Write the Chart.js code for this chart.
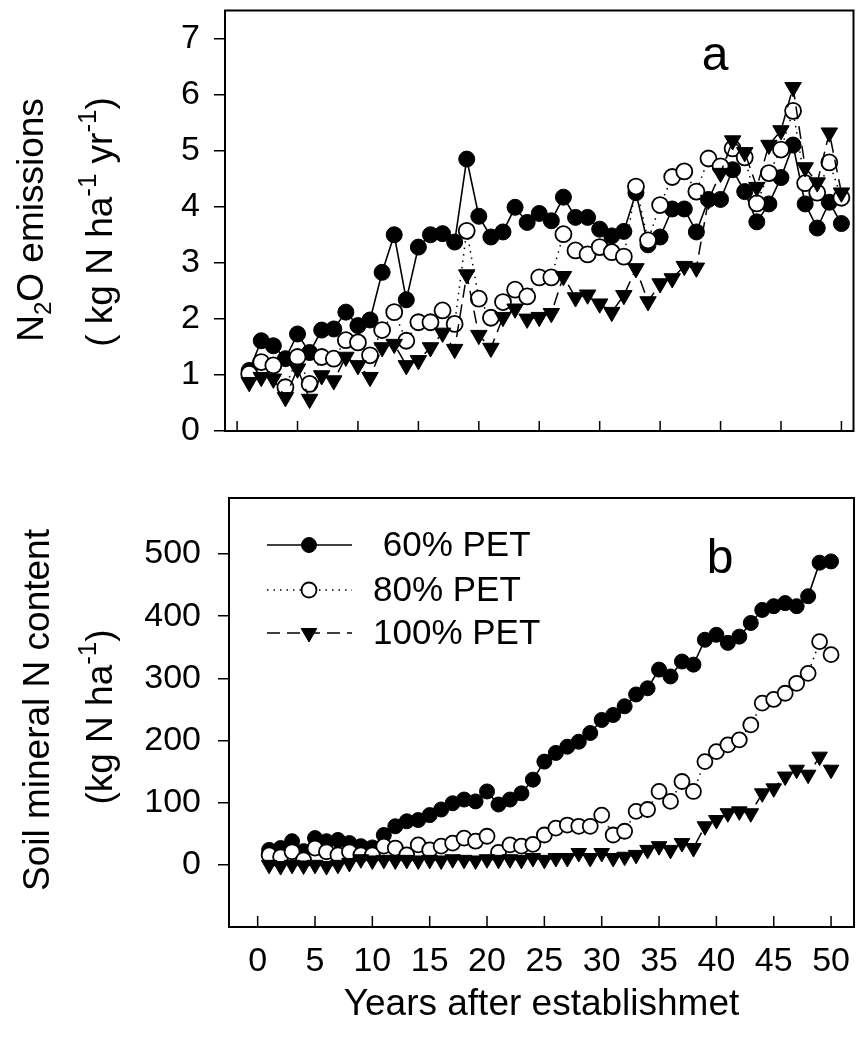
<!DOCTYPE html>
<html>
<head>
<meta charset="utf-8">
<title>N2O emissions and soil mineral N</title>
<script src="https://cdn.jsdelivr.net/npm/chart.js@4/dist/chart.umd.min.js"></script>
<style>
  html, body { margin: 0; padding: 0; background: #fff; }
  #fig { position: relative; width: 864px; height: 1044px; background: #fff; overflow: hidden;
         font-family: "Liberation Sans", Arial, sans-serif; color: #000; }
  #fig canvas { position: absolute; left: 0; }
  .yt { position: absolute; width: 500px; height: 44px; line-height: 44px; text-align: center;
        white-space: nowrap; font-size: 37px; transform: rotate(-90deg); transform-origin: 50% 50%; }
  .sb { font-size: 0.65em; position: relative; top: 0.32em; }
  .sp { font-size: 0.7em; position: relative; top: -0.6em; }
</style>
</head>
<body>
<div id="fig">
  <canvas id="cTop" width="864" height="470" style="top:0"></canvas>
  <canvas id="cBot" width="864" height="594" style="top:450px"></canvas>
  <div class="yt" style="left:-219px; top:198px">N<span class="sb">2</span>O emissions</div>
  <div class="yt" style="left:-150px; top:200px">(&nbsp;kg N ha<span class="sp">-1</span>&nbsp;yr<span class="sp">-1</span>)</div>
  <div class="yt" style="left:-213px; top:688px">Soil mineral N content</div>
  <div class="yt" style="left:-150px; top:695px">(kg N ha<span class="sp">-1</span>)</div>
</div>
<script>
// Years after establishment (x values shared by both panels)
const years = [1, 2, 3, 4, 5, 6, 7, 8, 9, 10, 11, 12, 13, 14, 15, 16, 17, 18, 19, 20,
               21, 22, 23, 24, 25, 26, 27, 28, 29, 30, 31, 32, 33, 34, 35, 36, 37, 38, 39, 40,
               41, 42, 43, 44, 45, 46, 47, 48, 49, 50];

// Panel a: annual N2O emissions (kg N ha-1 yr-1)
const n2o60 = [1.08, 1.61, 1.52, 1.29, 1.73, 1.40, 1.80, 1.82, 2.12, 1.88,
               1.98, 2.83, 3.50, 2.34, 3.28, 3.50, 3.52, 3.37, 4.85, 3.83,
               3.46, 3.55, 3.99, 3.72, 3.88, 3.75, 4.17, 3.81, 3.81, 3.60,
               3.48, 3.56, 4.25, 3.32, 3.46, 3.96, 3.96, 3.55, 4.13, 4.13,
               4.66, 4.27, 3.73, 4.05, 4.52, 5.10, 4.05, 3.62, 4.08, 3.70];
const n2o80 = [1.02, 1.23, 1.17, 0.78, 1.32, 0.84, 1.32, 1.29, 1.62, 1.58,
               1.35, 1.80, 2.12, 1.61, 1.94, 1.94, 2.15, 1.91, 3.57, 2.36,
               2.02, 2.30, 2.52, 2.40, 2.74, 2.74, 3.51, 3.22, 3.15, 3.28,
               3.19, 3.11, 4.36, 3.40, 4.03, 4.53, 4.63, 4.27, 4.86, 4.72,
               5.04, 4.88, 4.06, 4.60, 5.02, 5.71, 4.42, 4.25, 4.79, 4.16];
const n2o100 = [0.87, 0.96, 0.93, 0.60, 1.11, 0.57, 0.99, 0.90, 1.32, 1.17,
                0.96, 1.49, 1.55, 1.17, 1.26, 1.49, 1.75, 1.46, 2.79, 1.71,
                1.48, 2.03, 2.18, 2.00, 2.03, 2.10, 2.76, 2.38, 2.43, 2.27,
                2.12, 2.42, 2.90, 2.31, 2.63, 2.72, 2.94, 2.91, 4.12, 4.60,
                5.18, 4.97, 4.35, 5.10, 5.36, 6.13, 4.70, 4.43, 5.32, 4.25];

// Panel b: soil mineral N content (kg N ha-1)
const soilN60 = [24, 27, 38, 22, 43, 38, 40, 35, 30, 28,
                 48, 62, 70, 72, 80, 89, 99, 105, 102, 118,
                 97, 105, 115, 137, 166, 180, 190, 198, 212, 233,
                 241, 255, 274, 284, 314, 303, 327, 322, 362, 370,
                 357, 367, 389, 410, 416, 421, 416, 432, 486, 488];
const soilN80 = [16, 13, 21, 8, 27, 21, 16, 21, 16, 16,
                 30, 27, 16, 32, 24, 30, 35, 43, 38, 46,
                 20, 32, 30, 33, 48, 59, 64, 62, 62, 80,
                 48, 54, 86, 89, 118, 102, 134, 118, 166, 182,
                 193, 201, 225, 260, 266, 276, 292, 308, 359, 338];
const soilN100 = [0, -2, 0, -1, 0, -2, 0, 3, 9, 7,
                  8, 7, 8, 7, 8, 7, 9, 8, 7, 9,
                  8, 9, 8, 11, 8, 11, 11, 19, 11, 19,
                  11, 13, 16, 24, 30, 24, 35, 27, 62, 72,
                  83, 86, 83, 115, 123, 142, 153, 145, 174, 153];

const seriesLabels = [' 60% PET', '80% PET', '100% PET'];
const xTickValues = [0, 5, 10, 15, 20, 25, 30, 35, 40, 45, 50];
const n2oTickValues = [0, 1, 2, 3, 4, 5, 6, 7];
const soilTickValues = [0, 100, 200, 300, 400, 500];

const FONT = '"Liberation Sans", Arial, sans-serif';
Chart.defaults.font.family = FONT;
Chart.defaults.color = '#000';

function pairs(values) {
  return years.map((x, i) => ({ x: x, y: values[i] }));
}

function makeDatasets(v60, v80, v100, r) {
  return [
    { label: seriesLabels[0], data: pairs(v60), borderColor: '#000', borderWidth: 1.6,
      pointStyle: 'circle', pointRadius: r, pointBackgroundColor: '#000',
      pointBorderColor: '#000', pointBorderWidth: 1, tension: 0, fill: false, order: 3 },
    { label: seriesLabels[1], data: pairs(v80), borderColor: '#000', borderWidth: 1.5,
      borderDash: [1.5, 5], pointStyle: 'circle', pointRadius: r, pointBackgroundColor: '#fff',
      pointBorderColor: '#000', pointBorderWidth: 1.8, tension: 0, fill: false, order: 2 },
    { label: seriesLabels[2], data: pairs(v100), borderColor: '#000', borderWidth: 1.5,
      borderDash: [13, 7], pointStyle: 'triangle', pointRotation: 180, pointRadius: r + 1.5,
      pointBackgroundColor: '#000', pointBorderColor: '#000', pointBorderWidth: 1,
      tension: 0, fill: false, order: 1 }
  ];
}

// Keep the plot box where the layout padding puts it (no room reserved for edge labels)
function noEdgePadding(s) {
  s.paddingTop = 0; s.paddingBottom = 0; s.paddingLeft = 0; s.paddingRight = 0;
}

// Box frame, inward x tick marks and the panel letter
const framePlugin = {
  id: 'frame',
  afterDraw(chart, args, opts) {
    const { ctx, chartArea: a, scales } = chart;
    ctx.save();
    ctx.strokeStyle = '#000';
    ctx.lineWidth = 1.5;
    for (const v of opts.ticks) {
      const px = scales.x.getPixelForValue(v);
      ctx.beginPath();
      ctx.moveTo(px, a.bottom);
      ctx.lineTo(px, a.bottom - opts.tickLen);
      ctx.stroke();
    }
    ctx.lineWidth = 2;
    ctx.strokeRect(a.left, a.top, a.right - a.left, a.bottom - a.top);
    ctx.fillStyle = '#000';
    ctx.font = '48px ' + FONT;
    ctx.textAlign = 'center';
    ctx.textBaseline = 'middle';
    ctx.fillText(opts.letter, opts.letterX, a.top + opts.letterDy);
    ctx.restore();
  }
};

// Legend drawn inside the plot area: line sample, marker, label
const insetLegend = {
  id: 'insetLegend',
  afterDraw(chart, args, opts) {
    if (!opts.rows) return;
    const { ctx, chartArea: a } = chart;
    chart.data.datasets.forEach((ds, i) => {
      const y = a.top + opts.rows[i];
      ctx.save();
      ctx.strokeStyle = ds.borderColor;
      ctx.lineWidth = ds.borderWidth;
      ctx.setLineDash(ds.borderDash || []);
      ctx.beginPath();
      ctx.moveTo(a.left + opts.x0, y);
      ctx.lineTo(a.left + opts.x1, y);
      ctx.stroke();
      ctx.setLineDash([]);
      ctx.fillStyle = ds.pointBackgroundColor;
      ctx.strokeStyle = ds.pointBorderColor;
      ctx.lineWidth = ds.pointBorderWidth;
      Chart.helpers.drawPoint(ctx, {
        pointStyle: ds.pointStyle, rotation: ds.pointRotation || 0,
        radius: ds.pointRadius, borderWidth: ds.pointBorderWidth
      }, a.left + opts.xm, y);
      ctx.fillStyle = '#000';
      ctx.font = opts.fontSize + 'px ' + FONT;
      ctx.textAlign = 'left';
      ctx.textBaseline = 'middle';
      ctx.fillText(ds.label, a.left + opts.xt, y + 1);
      ctx.restore();
    });
  }
};

function yAxis(min, max, tickValues, width, pad) {
  return {
    type: 'linear', min: min, max: max,
    afterBuildTicks(s) { s.ticks = tickValues.map(v => ({ value: v })); },
    ticks: { font: { size: 34 }, padding: pad, color: '#000' },
    grid: { drawOnChartArea: false, drawTicks: true, tickLength: 11, color: '#000', lineWidth: 1.5 },
    border: { display: false },
    afterFit(s) { s.width = width; noEdgePadding(s); }
  };
}

new Chart(document.getElementById('cTop'), {
  type: 'line',
  data: { datasets: makeDatasets(n2o60, n2o80, n2o100, 8) },
  options: {
    responsive: false, animation: false, events: [],
    layout: { padding: { left: 0, right: 6, top: 9, bottom: 0 } },
    plugins: {
      legend: { display: false }, tooltip: { enabled: false },
      frame: { ticks: xTickValues, tickLen: 10, letter: 'a', letterX: 715, letterDy: 46 }
    },
    scales: {
      x: {
        type: 'linear', min: -1, max: 51,
        afterBuildTicks(s) { s.ticks = xTickValues.map(v => ({ value: v })); },
        ticks: { display: false },
        grid: { display: false, drawTicks: false },
        border: { display: false },
        afterFit(s) { s.height = 39; noEdgePadding(s); }
      },
      y: yAxis(0, 7.5, n2oTickValues, 225, 14)
    }
  },
  plugins: [framePlugin]
});

new Chart(document.getElementById('cBot'), {
  type: 'line',
  data: { datasets: makeDatasets(soilN60, soilN80, soilN100, 7.5) },
  options: {
    responsive: false, animation: false, events: [],
    layout: { padding: { left: 0, right: 2, top: 48, bottom: 0 } },
    plugins: {
      legend: { display: false }, tooltip: { enabled: false },
      frame: { ticks: xTickValues, tickLen: 11, letter: 'b', letterX: 720, letterDy: 62 },
      insetLegend: { rows: [47, 92, 135], x0: 38, x1: 123, xm: 80, xt: 144, fontSize: 35 }
    },
    scales: {
      x: {
        type: 'linear', min: -2.5, max: 52,
        afterBuildTicks(s) { s.ticks = xTickValues.map(v => ({ value: v })); },
        ticks: { font: { size: 34 }, padding: 14, color: '#000', maxRotation: 0, autoSkip: false },
        grid: { display: false, drawTicks: false },
        border: { display: false },
        title: { display: true, text: 'Years after establishmet', font: { size: 37 },
                 color: '#000', padding: { top: 0, bottom: 17 } },
        afterFit(s) { s.height = 117; noEdgePadding(s); }
      },
      y: yAxis(-100, 590, soilTickValues, 229, 17)
    }
  },
  plugins: [framePlugin, insetLegend]
});
</script>
</body>
</html>
